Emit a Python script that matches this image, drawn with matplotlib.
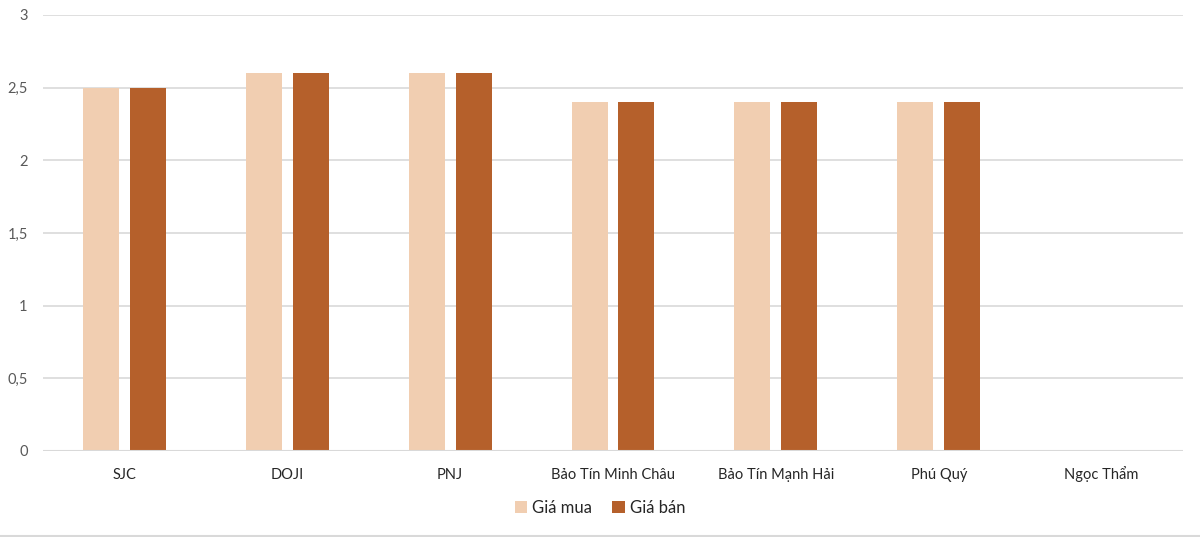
import matplotlib.pyplot as plt
import numpy as np
from matplotlib.lines import Line2D

categories = ["SJC", "DOJI", "PNJ", "Bảo Tín Minh Châu", "Bảo Tín Mạnh Hải", "Phú Quý", "Ngọc Thẩm"]
gia_mua = [2.5, 2.6, 2.6, 2.4, 2.4, 2.4, 0]
gia_ban = [2.5, 2.6, 2.6, 2.4, 2.4, 2.4, 0]
yticks = [0, 0.5, 1, 1.5, 2, 2.5, 3]
ytick_labels = ["0", "0,5", "1", "1,5", "2", "2,5", "3"]

light = "#F1CEB1"
dark = "#B5602B"
grid_color = "#D9D9D9"

plt.rcParams['font.family'] = ['Lato', 'DejaVu Sans']

fig = plt.figure(figsize=(12, 5.37), dpi=100)
ax = fig.add_axes([43 / 1200, 1 - 451 / 537, 1140 / 1200, 436 / 537])

x = np.arange(len(categories))
w = 0.221
off = 0.144
ax.bar(x - off, gia_mua, w, color=light, label="Giá mua", zorder=3)
ax.bar(x + off, gia_ban, w, color=dark, label="Giá bán", zorder=3)

ax.set_xlim(-0.5, len(categories) - 0.5)
ax.set_ylim(0, 3)
ax.set_yticks(yticks)
ax.set_yticklabels(ytick_labels, color="#595959", fontsize=10.5)
ax.set_xticks(x)
ax.set_xticklabels(categories, color="#262626", fontsize=10.5, va='baseline')
ax.tick_params(axis='both', length=0)
ax.tick_params(axis='y', pad=11)
ax.tick_params(axis='x', pad=20)
ax.grid(axis='y', color=grid_color, linewidth=1.2, zorder=0)
for spine in ax.spines.values():
    spine.set_visible(False)
ax.axhline(0, color=grid_color, linewidth=1.5, zorder=4)

ax.legend(loc='center', bbox_to_anchor=(0.5, 1 - 508 / 537), bbox_transform=fig.transFigure,
          ncol=2, frameon=False, fontsize=12, handlelength=0.75, handleheight=0.75,
          handletextpad=0.3, columnspacing=1.2, labelcolor="#262626")

fig.add_artist(Line2D([0, 1], [1 - 536 / 537] * 2, color=grid_color, linewidth=1.5,
                      transform=fig.transFigure))

fig.savefig("out.png", dpi=100)
